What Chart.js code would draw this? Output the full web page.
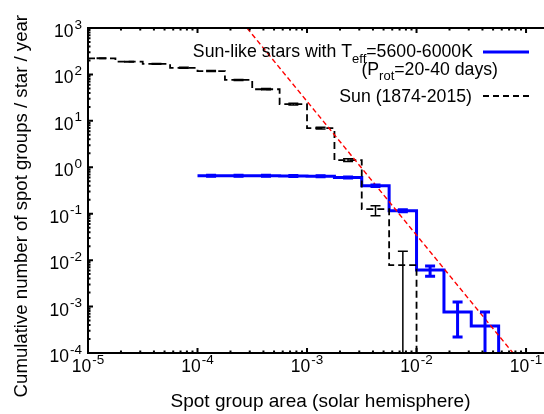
<!DOCTYPE html>
<html lang="en">
<head>
<meta charset="UTF-8">
<title>Cumulative spot group distribution</title>
<style>
  html, body { margin: 0; padding: 0; background: #fff; overflow: hidden; }
  #wrap { width: 572px; height: 414px; }
</style>
<script src="https://cdn.jsdelivr.net/npm/chart.js"></script>
</head>
<body>
<div id="wrap"><canvas id="spotChart" width="572" height="414"></canvas></div>
<script>
// Sun (1874-2015): quarter-decade bins, cumulative rate per bin
const sunEdges = [1e-5, 1.78e-5, 3.16e-5, 5.62e-5, 1e-4, 1.78e-4, 3.16e-4, 5.62e-4, 1e-3, 1.78e-3, 3.16e-3, 5.62e-3, 1e-2];
const sunRate  = [222, 188, 168, 139, 118, 76, 48, 23, 7.0, 1.43, 0.126, 0.0078];
const sunMid   = [1.33e-5, 2.37e-5, 4.22e-5, 7.5e-5, 1.33e-4, 2.37e-4, 4.22e-4, 7.5e-4, 1.33e-3, 2.37e-3, 4.22e-3, 7.5e-3];
const sunLo    = [219, 185, 165, 136, 115, 74, 46.5, 22, 6.7, 1.34, 0.090, 0];
const sunHi    = [225, 191, 171, 142, 121, 78, 49.5, 24, 7.3, 1.52, 0.148, 0.0156];

// Sun-like stars, Teff = 5600-6000K, Prot = 20-40 days
const starEdges = [1e-4, 1.78e-4, 3.16e-4, 5.62e-4, 1e-3, 1.78e-3, 3.16e-3, 5.62e-3, 1e-2, 1.78e-2, 3.16e-2, 5.62e-2];
const starRate  = [0.66, 0.66, 0.66, 0.65, 0.64, 0.60, 0.40, 0.116, 0.0061, 0.00076, 0.00038];
const starMid   = [1.33e-4, 2.37e-4, 4.22e-4, 7.5e-4, 1.33e-3, 2.37e-3, 4.22e-3, 7.5e-3, 1.33e-2, 2.37e-2, 4.22e-2];
const starLo    = [0.645, 0.645, 0.645, 0.635, 0.625, 0.585, 0.385, 0.110, 0.0045, 0.00022, 0];
const starHi    = [0.675, 0.675, 0.675, 0.665, 0.655, 0.615, 0.415, 0.122, 0.0075, 0.00126, 0.00076];

// power-law guide (red dashed), where it meets the frame
const fitX = [2.83e-4, 0.076];
const fitY = [1000, 1e-4];

// axes
const xMin = 1e-5, xMax = 0.18;
const yMin = 1e-4, yMax = 1e3;
const xTickExp = [-5, -4, -3, -2, -1];
const yTickExp = [-4, -3, -2, -1, 0, 1, 2, 3];

const FONT = '"Liberation Sans", Arial, Helvetica, sans-serif';
const BELOW = 1e-6; // drop to the floor of the log axis

function steps(edges, vals) {
  return edges.map((x, i) => ({ x: x, y: i < vals.length ? vals[i] : BELOW }));
}

function drawPow(ctx, px, base, exp, align) {
  const big = '17.5px ' + FONT, small = '13.5px ' + FONT;
  ctx.font = big;
  const wb = ctx.measureText('10').width;
  ctx.font = small;
  const we = ctx.measureText(exp).width;
  const w = wb + we + 1;
  const left = align === 'center' ? px - w / 2 : px - w;
  ctx.textAlign = 'left';
  ctx.textBaseline = 'alphabetic';
  ctx.font = big;
  ctx.fillText('10', left, base);
  ctx.font = small;
  ctx.fillText(exp, left + wb + 1, base - 8.5);
}

// draws pieces [text, size, shift] right-aligned at xr
function drawRuns(ctx, runs, xr, base) {
  let widths = runs.map(r => { ctx.font = r[1] + 'px ' + FONT; return ctx.measureText(r[0]).width; });
  let x = xr - widths.reduce((a, b) => a + b, 0);
  ctx.textAlign = 'left';
  ctx.textBaseline = 'alphabetic';
  runs.forEach((r, i) => {
    ctx.font = r[1] + 'px ' + FONT;
    ctx.fillText(r[0], x, base + r[2]);
    x += widths[i];
  });
}

const errorBars = {
  id: 'errorBars',
  afterDatasetsDraw(chart) {
    const { ctx, chartArea: a, scales: { x, y } } = chart;
    ctx.save();
    ctx.beginPath();
    ctx.rect(a.left, a.top, a.right - a.left, a.bottom - a.top);
    ctx.clip();
    function bars(mid, lo, hi, color, lw, cap) {
      ctx.strokeStyle = color;
      ctx.lineWidth = lw;
      mid.forEach((m, i) => {
        const px = x.getPixelForValue(m);
        const top = y.getPixelForValue(hi[i]);
        const bot = lo[i] > 0 ? y.getPixelForValue(lo[i]) : a.bottom + 10;
        ctx.beginPath();
        ctx.moveTo(px, top); ctx.lineTo(px, bot);
        ctx.moveTo(px - cap, top); ctx.lineTo(px + cap, top);
        if (lo[i] > 0) { ctx.moveTo(px - cap, bot); ctx.lineTo(px + cap, bot); }
        ctx.stroke();
      });
    }
    bars(sunMid, sunLo, sunHi, '#000000', 1.5, 5);
    bars(starMid, starLo, starHi, '#0000ff', 3, 5);
    ctx.restore();
  }
};

const frame = {
  id: 'frame',
  afterDraw(chart) {
    const { ctx, chartArea: a, scales: { x, y } } = chart;
    ctx.save();
    ctx.strokeStyle = '#000';
    ctx.fillStyle = '#000';
    ctx.lineWidth = 2;
    ctx.beginPath();
    // x ticks, bottom and top
    xTickExp.forEach(e => {
      for (let m = 1; m <= 9; m++) {
        const v = m * Math.pow(10, e);
        if (v < xMin || v > xMax) continue;
        const px = x.getPixelForValue(v), len = m === 1 ? 5 : 2.5;
        ctx.moveTo(px, a.bottom); ctx.lineTo(px, a.bottom - len);
        ctx.moveTo(px, a.top); ctx.lineTo(px, a.top + len);
      }
    });
    // y ticks, left and right
    yTickExp.forEach(e => {
      for (let m = 1; m <= 9; m++) {
        const v = m * Math.pow(10, e);
        if (v < yMin || v > yMax) continue;
        const py = y.getPixelForValue(v), len = m === 1 ? 5 : 2.5;
        ctx.moveTo(a.left, py); ctx.lineTo(a.left + len, py);
        ctx.moveTo(a.right, py); ctx.lineTo(a.right - len, py);
      }
    });
    ctx.stroke();
    ctx.strokeRect(a.left, a.top, a.right - a.left, a.bottom - a.top);

    // tick labels
    xTickExp.forEach(e => drawPow(ctx, x.getPixelForValue(Math.pow(10, e)), a.bottom + 19, String(e), 'center'));
    yTickExp.forEach(e => drawPow(ctx, a.left - 6, y.getPixelForValue(Math.pow(10, e)) + 9, String(e), 'right'));

    // axis titles
    ctx.font = '19px ' + FONT;
    ctx.textAlign = 'center';
    ctx.textBaseline = 'alphabetic';
    ctx.fillText('Spot group area (solar hemisphere)', 320.5, 407);
    ctx.save();
    ctx.translate(27, 15);
    ctx.rotate(-Math.PI / 2);
    ctx.font = '18.6px ' + FONT;
    ctx.textAlign = 'right';
    ctx.fillText('Cumulative number of spot groups / star / year', 0, 0);
    ctx.restore();

    // key
    drawRuns(ctx, [['Sun-like stars with T', 17.7, 0], ['eff', 13, 6], ['=5600-6000K', 17.7, 0]], 473, 57);
    drawRuns(ctx, [['(P', 17.7, 0], ['rot', 13, 5], ['=20-40 days)', 17.7, 0]], 498, 75);
    drawRuns(ctx, [['Sun (1874-2015)', 17.7, 0]], 472, 102);
    ctx.lineWidth = 3;
    ctx.strokeStyle = '#0000ff';
    ctx.beginPath(); ctx.moveTo(483, 52); ctx.lineTo(529, 52); ctx.stroke();
    ctx.lineWidth = 1.8;
    ctx.strokeStyle = '#000';
    ctx.setLineDash([6, 4]);
    ctx.beginPath(); ctx.moveTo(483, 96); ctx.lineTo(529, 96); ctx.stroke();
    ctx.restore();
  }
};

const ctx = document.getElementById('spotChart').getContext('2d');
const spotChart = new Chart(ctx, {
  type: 'line',
  data: {
    datasets: [
      {
        label: 'fit',
        data: fitX.map((x, i) => ({ x: x, y: fitY[i] })),
        borderColor: '#ff0000',
        borderWidth: 1.4,
        borderDash: [5, 3],
        pointRadius: 0,
        tension: 0
      },
      {
        label: 'Sun (1874-2015)',
        data: steps(sunEdges, sunRate),
        borderColor: '#000000',
        borderWidth: 1.8,
        borderDash: [7, 4],
        stepped: true,
        pointRadius: 0
      },
      {
        label: 'Sun-like stars',
        data: steps(starEdges, starRate),
        borderColor: '#0000ff',
        borderWidth: 3,
        stepped: true,
        pointRadius: 0
      }
    ]
  },
  options: {
    responsive: false,
    animation: false,
    layout: { padding: { left: 88, top: 28, right: 18, bottom: 61 } },
    plugins: { legend: { display: false }, tooltip: { enabled: false } },
    scales: {
      x: { type: 'logarithmic', min: xMin, max: xMax, display: false },
      y: { type: 'logarithmic', min: yMin, max: yMax, display: false }
    }
  },
  plugins: [errorBars, frame]
});
</script>
</body>
</html>
